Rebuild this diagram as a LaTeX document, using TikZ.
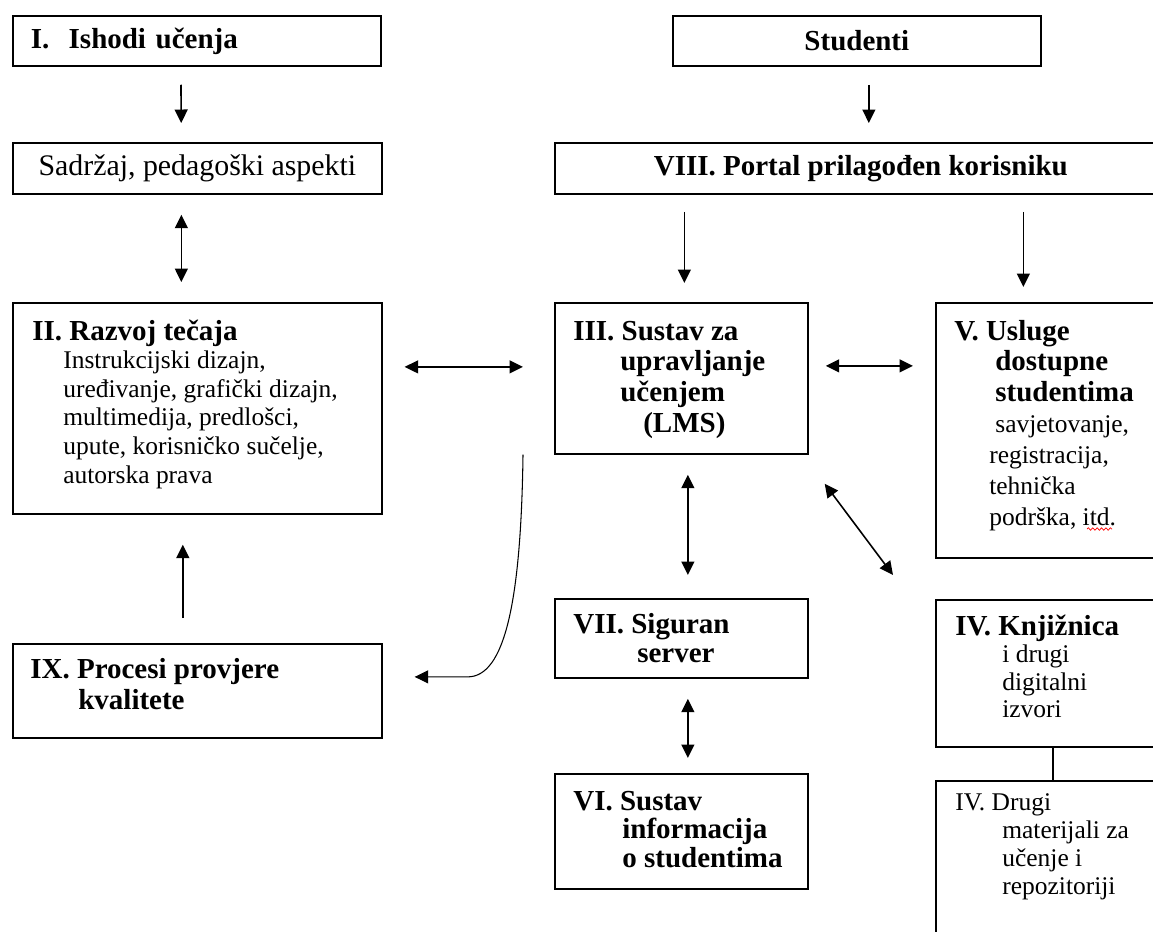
\documentclass[tikz,border=0pt]{standalone}
\usepackage{fontspec}
\setmainfont{Liberation Serif}
\usepackage{tikz}
\usetikzlibrary{arrows.meta}
\usetikzlibrary{decorations.pathmorphing}
\tikzset{box/.style = {draw, line width=1pt, rectangle, anchor=north west, inner sep=0pt}}
\tikzset{boxtxt/.style = {anchor=base west, inner sep=0pt}}
\tikzset{arr/.style = {-{Triangle[length=0.27cm, width=0.26cm]}, line width=0.9pt}}
\tikzset{dbl/.style = {{Triangle[length=0.27cm, width=0.26cm]}-{Triangle[length=0.27cm, width=0.26cm]}, line width=0.9pt}}
\newcommand{\boxlines}[1]{\begin{tabular}[t]{@{}l@{}}#1\end{tabular}}
\newcommand{\indt}[1]{\hspace*{#1}}
\newcommand{\hd}[1]{{\fontsize{16.5}{16.5}\selectfont\bfseries #1}}
\newcommand{\bodyfont}[1]{\fontsize{14.5}{#1}\selectfont}
\newcommand{\headfont}[1]{\fontsize{16.5}{#1}\selectfont\bfseries}

\begin{document}
\begin{tikzpicture}[x=0.02cm, y=-0.02cm]
    \useasboundingbox (0,0) rectangle (1153,931);
    \clip (0,0) rectangle (1153,931);

    % left column
    \node [box, text width=6.64cm, inner xsep=0.36cm, minimum height=1cm, font=\headfont{16}] (ishodi) at (12,15) {I.\ \ Ishodi učenja};
    \node [box, minimum width=7.38cm, minimum height=1.02cm, font=\fontsize{17}{17}\selectfont] (sadrzaj) at (12,142) {Sadržaj, pedagoški aspekti};
    \node [box, minimum width=7.38cm, minimum height=4.22cm] (razvoj) at (12,302) {};
    \node [boxtxt, font=\bodyfont{16.3}] (razvojtxt) at (32,340) {\boxlines{\hd{II. Razvoj tečaja}\\
      \indt{0.62cm}Instrukcijski dizajn,\\
      \indt{0.62cm}uređivanje, grafički dizajn,\\
      \indt{0.62cm}multimedija, predlošci,\\
      \indt{0.62cm}upute, korisničko sučelje,\\
      \indt{0.62cm}autorska prava}};
    \node [box, minimum width=7.38cm, minimum height=1.88cm] (kval) at (12,643) {};
    \node [boxtxt, font=\headfont{18.2}] (kvaltxt) at (30,678) {\boxlines{IX. Procesi provjere\\
      \indt{0.96cm}kvalitete}};

    % right part
    \node [box, minimum width=7.36cm, minimum height=1cm, font=\headfont{16}] (studenti) at (672,15) {Studenti};
    \node [box, minimum width=12.24cm, minimum height=1.02cm, font=\headfont{16}] (portal) at (554,142) {VIII. Portal prilagođen korisniku};
    \node [box, minimum width=5.06cm, minimum height=3.02cm] (lms) at (554,302) {};
    \node [boxtxt, font=\headfont{17.6}] (lmstxt) at (573,340) {\boxlines{III. Sustav za\\
      \indt{0.94cm}upravljanje\\
      \indt{0.94cm}učenjem\\
      \indt{1.4cm}(LMS)}};
    \node [box, minimum width=4.7cm, minimum height=5.1cm] (usluge) at (935,302) {};
    \node [boxtxt, font=\bodyfont{17.6}] (uslugetxt) at (954,340) {\boxlines{\hd{V. Usluge}\\
      \indt{0.82cm}\hd{dostupne}\\
      \indt{0.82cm}\hd{studentima}\\
      \indt{0.82cm}savjetovanje,\\
      \indt{0.7cm}registracija,\\
      \indt{0.7cm}tehnička\\
      \indt{0.7cm}podrška, itd.}};
    \draw [red, line width=0.4pt, decorate, decoration={snake, amplitude=0.7pt, segment length=2.5pt}] (1087,529) -- (1112,529);
    \node [box, minimum width=5.06cm, minimum height=1.58cm] (siguran) at (554,598) {};
    \node [boxtxt, font=\headfont{16.5}] (sigurantxt) at (573,633) {\boxlines{VII. Siguran\\
      \indt{1.28cm}server}};
    \node [box, minimum width=5.06cm, minimum height=2.3cm] (info) at (554,773) {};
    \node [boxtxt, font=\headfont{16.2}] (infotxt) at (573,810) {\boxlines{VI. Sustav\\
      \indt{0.98cm}informacija\\
      \indt{0.98cm}o studentima}};
    \node [box, minimum width=4.7cm, minimum height=2.94cm] (knjiz) at (935,599) {};
    \node [boxtxt, font=\bodyfont{15.7}] (knjiztxt) at (955,635) {\boxlines{\hd{IV. Knjižnica}\\
      \indt{0.94cm}i drugi\\
      \indt{0.94cm}digitalni\\
      \indt{0.94cm}izvori}};
    \node [box, minimum width=4.7cm, minimum height=4cm] (drugi) at (935,780) {};
    \node [boxtxt, font=\bodyfont{16.1}] (drugitxt) at (955,810) {\boxlines{IV. Drugi\\
      \indt{0.94cm}materijali za\\
      \indt{0.94cm}učenje i\\
      \indt{0.94cm}repozitoriji}};

    % connectors
    \draw [arr, shorten <=0.36cm, shorten >=0.38cm] ([xshift=-0.32cm]ishodi.south) -- ([xshift=-0.32cm]sadrzaj.north);
    \draw [arr, shorten <=0.36cm, shorten >=0.38cm] ([xshift=0.24cm]studenti.south) -- ([xshift=0.24cm]studenti.south |- portal.north);
    \draw [dbl, shorten <=0.4cm, shorten >=0.4cm] ([xshift=-0.32cm]sadrzaj.south) -- ([xshift=-0.32cm]razvoj.north);
    \draw [arr, shorten <=0.34cm, shorten >=0.38cm] ([xshift=0.06cm]lms.north |- portal.south) -- ([xshift=0.06cm]lms.north);
    \draw [arr, shorten <=0.34cm, shorten >=0.3cm] ([xshift=-0.6cm]usluge.north |- portal.south) -- ([xshift=-0.6cm]usluge.north);
    \draw [dbl, shorten <=0.44cm, shorten >=0.62cm] ([yshift=0.23cm]lms.west -| razvoj.east) -- ([yshift=0.23cm]lms.west);
    \draw [dbl, shorten <=0.34cm, shorten >=0.44cm] ([yshift=0.25cm]lms.east) -- ([yshift=0.25cm]lms.east -| usluge.west);
    \draw [dbl, shorten <=0.4cm, shorten >=0.46cm] ([xshift=0.13cm]lms.south) -- ([xshift=0.13cm]siguran.north);
    \draw [dbl] ([shift={(16,29)}]lms.south east) -- ([shift={(-42,-24)}]knjiz.north west);
    \draw [dbl, shorten <=0.4cm, shorten >=0.3cm] ([xshift=0.13cm]siguran.south) -- ([xshift=0.13cm]info.north);
    \draw [arr, shorten <=0.5cm, shorten >=0.6cm] ([xshift=-0.29cm]kval.north) -- ([xshift=-0.29cm]razvoj.south);
    \draw [arr, line width=0.6pt] ([xshift=-0.62cm]lms.south west) .. controls +(-2,147) and +(37,0) .. ([shift={(85,-14)}]kval.east) -- ([shift={(32,-14)}]kval.east);
    \draw [line width=1pt] (knjiz) -- (drugi);
\end{tikzpicture}
\end{document}
